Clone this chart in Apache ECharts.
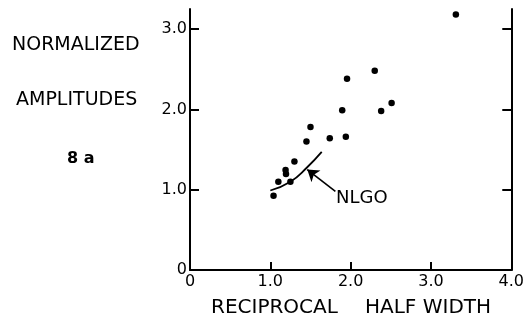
<!DOCTYPE html>
<html>
<head>
<meta charset="utf-8">
<script src="https://cdn.jsdelivr.net/npm/echarts@6/dist/echarts.min.js"></script>
<style>
  html, body { margin: 0; padding: 0; background: #fff; }
  #chart { width: 527px; height: 323px; }
</style>
</head>
<body>
<div id="chart"></div>
<script>
// measured points: reciprocal half width vs normalized amplitude
const pointX = [3.31, 2.30, 1.955, 2.51, 2.38, 1.895, 1.50, 1.45, 1.74, 1.94, 1.30, 1.19, 1.195, 1.10, 1.25, 1.04]
const pointY = [3.18, 2.48, 2.38, 2.08, 1.98, 1.99, 1.78, 1.60, 1.64, 1.66, 1.35, 1.245, 1.195, 1.10, 1.10, 0.925]
// NLGO curve
const curveX = [1.0, 1.25, 1.45, 1.64]
const curveY = [0.99, 1.10, 1.27, 1.47]
// arrow from label to curve
const arrowFrom = [1.81, 0.98]
const arrowTo = [1.46, 1.25]
const xTicks = [0, 1, 2, 3, 4]
const yTicks = [0, 1, 2, 3]

const font = 'DejaVu Sans'
const fmt = (v) => (v === 0 ? '0' : v.toFixed(1))

const chart = echarts.init(document.getElementById('chart'))

const yAxisBase = {
  type: 'value',
  min: 0,
  max: 3.25,
  splitLine: { show: false },
  axisLine: { show: true, lineStyle: { color: '#000', width: 2 } },
}

chart.setOption({
  animation: false,
  backgroundColor: '#fff',
  grid: { left: 190, right: 15, top: 9, bottom: 53 },
  xAxis: {
    type: 'value',
    min: 0,
    max: 4,
    splitLine: { show: false },
    axisLine: { show: true, onZero: false, lineStyle: { color: '#000', width: 2 } },
    axisTick: { show: true, inside: true, length: 8, customValues: xTicks, lineStyle: { color: '#000', width: 2 } },
    axisLabel: { customValues: xTicks, formatter: fmt, color: '#000', fontFamily: font, fontSize: 16, margin: 4 },
  },
  yAxis: [
    {
      ...yAxisBase,
      position: 'left',
      axisTick: { show: true, inside: true, length: 9, customValues: yTicks, lineStyle: { color: '#000', width: 2 } },
      axisLabel: { customValues: yTicks, formatter: fmt, color: '#000', fontFamily: font, fontSize: 16, margin: 3 },
    },
    {
      ...yAxisBase,
      position: 'right',
      axisTick: { show: true, inside: true, length: 9, customValues: [1, 2, 3], lineStyle: { color: '#000', width: 2 } },
      axisLabel: { show: false },
    },
  ],
  series: [
    {
      type: 'scatter',
      data: pointX.map((x, i) => [x, pointY[i]]),
      symbol: 'circle',
      symbolSize: 6.5,
      itemStyle: { color: '#000', opacity: 1 },
    },
    {
      type: 'line',
      data: curveX.map((x, i) => [x, curveY[i]]),
      smooth: true,
      showSymbol: false,
      lineStyle: { color: '#000', width: 1.8 },
    },
    {
      type: 'lines',
      coordinateSystem: 'cartesian2d',
      symbol: ['none', 'arrow'],
      symbolSize: 11,
      data: [{ coords: [arrowFrom, arrowTo] }],
      lineStyle: { color: '#000', width: 1.6, opacity: 1 },
    },
  ],
  graphic: [
    { type: 'text', left: 12, top: 36, style: { text: 'NORMALIZED', font: '19px "DejaVu Sans"', fill: '#000' } },
    { type: 'text', left: 16, top: 91, style: { text: 'AMPLITUDES', font: '19px "DejaVu Sans"', fill: '#000' } },
    { type: 'text', left: 67, top: 151, style: { text: '8 a', font: 'bold 16px "DejaVu Sans"', fill: '#000' } },
    { type: 'text', left: 336, top: 189, style: { text: 'NLGO', font: '18px "DejaVu Sans"', fill: '#000' } },
    { type: 'text', left: 211, top: 298, style: { text: 'RECIPROCAL', font: '20px "DejaVu Sans"', fill: '#000' } },
    { type: 'text', left: 365, top: 298, style: { text: 'HALF WIDTH', font: '20px "DejaVu Sans"', fill: '#000' } },
  ],
})
</script>
</body>
</html>
